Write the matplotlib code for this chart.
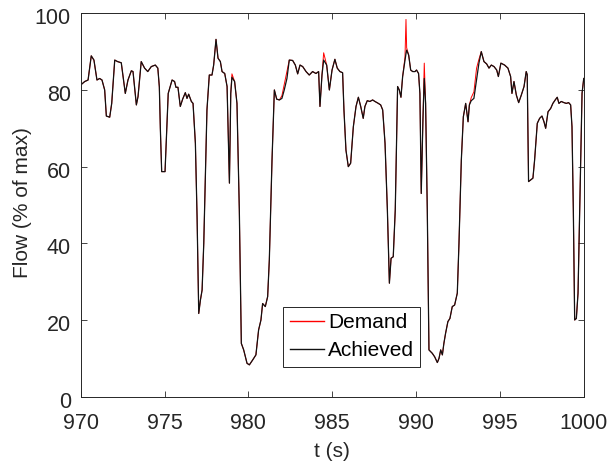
import matplotlib
matplotlib.use('Agg')
import matplotlib.pyplot as plt
import matplotlib.transforms as mtransforms

# time samples (s)
t = [970.00, 970.24, 970.44, 970.63, 970.79, 970.97, 971.13, 971.27, 971.43, 971.53,
     971.73, 971.85, 972.03, 972.20, 972.42, 972.66, 972.82, 973.02, 973.12, 973.32,
     973.42, 973.61, 973.81, 974.00, 974.21, 974.45, 974.60, 974.69, 974.75, 974.83,
     975.03, 975.09, 975.22, 975.45, 975.60, 975.68, 975.80, 975.94, 976.08, 976.24,
     976.34, 976.44, 976.60, 976.70, 976.84, 976.94, 977.04, 977.14, 977.24, 977.34,
     977.53, 977.67, 977.83, 977.93, 978.07, 978.19, 978.33, 978.43, 978.59, 978.73,
     978.87, 978.95, 979.02, 979.18, 979.32, 979.46, 979.58, 979.72, 979.92, 980.06,
     980.26, 980.45, 980.61, 980.75, 980.85, 981.01, 981.15, 981.25, 981.41, 981.55,
     981.69, 981.85, 982.00, 982.14, 982.30, 982.44, 982.64, 982.80, 982.94, 983.08,
     983.24, 983.44, 983.63, 983.83, 984.03, 984.19, 984.27, 984.39, 984.49, 984.67,
     984.83, 984.99, 985.16, 985.30, 985.46, 985.62, 985.70, 985.82, 985.96, 986.10,
     986.26, 986.42, 986.56, 986.70, 986.85, 986.95, 987.09, 987.25, 987.41, 987.55,
     987.75, 987.89, 988.01, 988.15, 988.29, 988.41, 988.51, 988.64, 988.76, 988.90,
     989.00, 989.10, 989.20, 989.34, 989.40, 989.44, 989.56, 989.68, 989.80, 989.94,
     990.03, 990.15, 990.23, 990.31, 990.41, 990.49, 990.57, 990.67, 990.77, 990.97,
     991.11, 991.27, 991.37, 991.47, 991.57, 991.66, 991.76, 991.90, 992.02, 992.16,
     992.30, 992.46, 992.56, 992.70, 992.82, 992.96, 993.10, 993.18, 993.29, 993.45,
     993.61, 993.75, 993.89, 994.05, 994.21, 994.35, 994.49, 994.65, 994.81, 994.91,
     995.06, 995.28, 995.48, 995.64, 995.72, 995.84, 995.98, 996.12, 996.28, 996.44,
     996.57, 996.63, 996.71, 996.83, 996.97, 997.07, 997.23, 997.37, 997.51, 997.63,
     997.73, 997.87, 998.03, 998.16, 998.30, 998.42, 998.52, 998.66, 998.82, 998.96,
     999.10, 999.22, 999.30, 999.38, 999.46, 999.56, 999.66, 999.76, 999.90, 1000.00]

achieved = [81.3, 82.2, 82.6, 88.9, 87.8, 82.6, 83.0, 82.6, 80.0, 73.2,
            72.9, 76.5, 87.8, 87.4, 87.1, 79.1, 82.6, 85.0, 84.8, 76.1,
            78.3, 87.4, 85.7, 84.8, 86.1, 86.5, 85.7, 80.8, 70.0, 58.7,
            58.7, 65.0, 79.1, 82.6, 82.2, 80.7, 80.7, 75.7, 77.6, 79.3,
            77.8, 78.9, 77.0, 76.5, 66.1, 47.0, 21.7, 25.2, 27.8, 40.0,
            74.8, 83.9, 83.9, 86.5, 93.2, 88.3, 87.4, 84.8, 84.3, 80.9,
            55.7, 79.1, 83.3, 82.2, 76.5, 48.7, 13.9, 12.2, 8.7, 8.3,
            9.6, 10.9, 17.4, 20.0, 24.3, 23.5, 26.1, 35.7, 61.7, 80.0,
            77.6, 77.4, 77.8, 80.0, 83.0, 87.8, 87.7, 86.5, 84.2, 86.5,
            86.1, 84.8, 83.9, 84.8, 84.3, 84.8, 75.7, 83.9, 87.8, 86.5,
            80.0, 85.2, 88.0, 85.7, 84.8, 84.5, 74.8, 64.3, 60.0, 60.9,
            70.4, 75.7, 78.1, 75.7, 72.6, 75.7, 77.2, 77.0, 77.4, 77.0,
            76.5, 76.1, 74.8, 66.1, 48.7, 29.6, 36.1, 36.5, 48.7, 80.9,
            80.0, 78.1, 83.5, 87.8, 89.5, 90.4, 89.1, 85.2, 84.8, 84.8,
            85.2, 84.3, 79.1, 53.0, 72.2, 83.0, 76.5, 48.7, 12.2, 11.3,
            10.4, 8.9, 10.0, 12.2, 10.9, 13.9, 16.5, 19.6, 20.4, 23.5,
            23.9, 27.0, 40.0, 61.7, 73.0, 76.5, 71.7, 76.1, 77.2, 77.8,
            82.6, 87.0, 90.0, 87.4, 86.8, 85.7, 86.5, 86.1, 85.2, 83.5,
            87.0, 86.5, 85.7, 83.5, 79.1, 82.2, 78.7, 76.7, 78.7, 80.9,
            84.8, 84.0, 56.1, 56.5, 57.0, 61.7, 71.3, 72.6, 73.2, 71.7,
            70.0, 74.3, 75.2, 76.5, 77.4, 78.1, 76.5, 77.0, 76.7, 76.5,
            76.7, 76.1, 70.4, 48.7, 20.0, 20.4, 27.0, 48.7, 79.1, 83.0]

demand = [81.3, 82.2, 82.6, 88.9, 87.8, 82.6, 83.0, 82.6, 80.0, 73.2,
          72.9, 76.5, 87.8, 87.4, 87.1, 79.1, 82.6, 85.0, 84.8, 76.1,
          78.3, 87.4, 85.7, 84.8, 86.1, 86.5, 85.7, 80.8, 70.0, 58.7,
          58.7, 65.0, 79.1, 82.6, 82.2, 80.7, 80.7, 75.7, 77.6, 79.3,
          77.8, 78.9, 77.0, 76.5, 66.1, 47.0, 21.7, 25.2, 27.8, 40.0,
          74.8, 83.9, 83.9, 86.5, 93.2, 88.3, 87.4, 84.8, 84.3, 80.9,
          55.7, 79.1, 84.2, 82.2, 76.5, 48.7, 13.9, 12.2, 8.7, 8.3,
          9.6, 10.9, 17.4, 20.0, 24.3, 23.5, 26.1, 35.7, 61.7, 80.0,
          77.6, 77.4, 78.5, 81.5, 85.0, 87.8, 87.7, 86.5, 84.2, 86.5,
          86.1, 84.8, 83.9, 84.8, 84.3, 84.8, 75.7, 83.9, 89.7, 86.5,
          80.0, 85.2, 88.0, 85.7, 84.8, 84.5, 74.8, 64.3, 60.0, 60.9,
          70.4, 75.7, 78.1, 75.7, 72.6, 75.7, 77.2, 77.0, 77.4, 77.0,
          76.5, 76.1, 74.8, 66.1, 48.7, 29.6, 36.1, 36.5, 48.7, 80.9,
          80.0, 78.1, 83.5, 88.5, 98.4, 91.0, 89.1, 85.2, 84.8, 84.8,
          85.2, 84.3, 79.1, 53.0, 72.2, 87.0, 76.5, 48.7, 12.2, 11.3,
          10.4, 8.9, 10.0, 12.2, 10.9, 13.9, 16.5, 19.6, 20.4, 23.5,
          23.9, 27.0, 40.0, 61.7, 73.0, 76.5, 71.7, 76.1, 78.0, 79.5,
          85.7, 88.0, 90.0, 87.4, 86.8, 85.7, 86.5, 86.1, 85.2, 83.5,
          87.0, 86.5, 85.7, 83.5, 79.1, 82.2, 78.7, 76.7, 78.7, 80.9,
          84.8, 84.0, 56.1, 56.5, 57.0, 61.7, 71.3, 72.6, 73.2, 71.7,
          70.0, 74.3, 75.2, 76.5, 77.4, 78.1, 76.5, 77.0, 76.7, 76.5,
          76.7, 76.1, 70.4, 48.7, 20.0, 20.4, 27.0, 48.7, 79.1, 83.0]

x_ticks = [970, 975, 980, 985, 990, 995, 1000]
y_ticks = [0, 20, 40, 60, 80, 100]

plt.rcParams['font.family'] = ['Liberation Sans', 'DejaVu Sans']

fig = plt.figure(figsize=(6.09, 4.68), dpi=100)
ax = fig.add_axes([0.1325, 0.1524, 0.8260, 0.8192])

ax.plot(t, demand, color='#ff0000', lw=0.7, label='Demand')
ax.plot(t, achieved, color='#111111', lw=0.9, label='Achieved')

ax.set_xlim(970, 1000)
ax.set_ylim(0, 100)
ax.set_xticks(x_ticks)
ax.set_yticks(y_ticks)
ax.tick_params(direction='in', top=True, right=True, length=4, width=0.6,
               colors='#262626', labelsize=15.5)
ax.tick_params(axis='x', pad=11.5)
ax.tick_params(axis='y', pad=7)
for s in ax.spines.values():
    s.set_color('#262626')
    s.set_linewidth(0.7)

# y tick labels sit a little below their ticks in the reference
shift = mtransforms.ScaledTranslation(0, -3 / 100, fig.dpi_scale_trans)
for lbl in ax.get_yticklabels():
    lbl.set_transform(lbl.get_transform() + shift)

ax.set_xlabel('t (s)', color='#262626', fontsize=15)
ax.set_ylabel('Flow (% of max)', color='#262626', fontsize=15)
ax.xaxis.set_label_coords(0.5, -0.118)
ax.yaxis.set_label_coords(-0.097, 0.506)

leg = ax.legend(loc='lower left', bbox_to_anchor=(0.4028, 0.0782), fancybox=False,
                edgecolor='#262626', framealpha=1, fontsize=15, borderpad=0.3,
                handlelength=1.65, handletextpad=0.2, labelspacing=0.45,
                borderaxespad=0)
leg.get_frame().set_linewidth(0.7)
for h in leg.get_lines():
    h.set_linewidth(1.0)

fig.savefig('out.png', dpi=100)
